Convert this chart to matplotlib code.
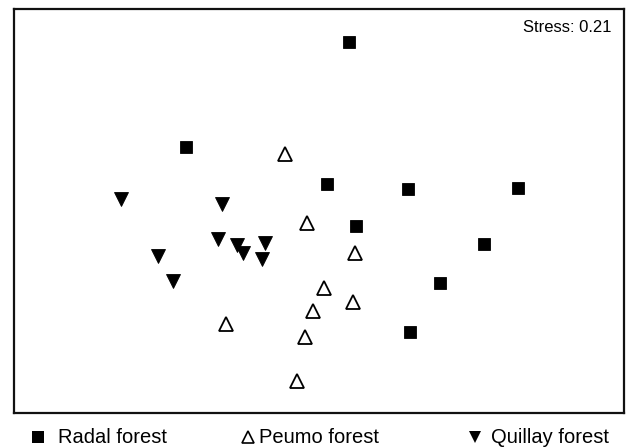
import matplotlib
matplotlib.use("Agg")
import matplotlib.pyplot as plt
from matplotlib.lines import Line2D

plt.rcParams["font.family"] = ["Liberation Sans", "DejaVu Sans"]

# NMDS coordinates
radal_x = [0.145, -0.67, 0.035, 0.44, 0.99, 0.18, 0.82, 0.60, 0.45]
radal_y = [0.89, 0.365, 0.18, 0.155, 0.16, -0.03, -0.12, -0.315, -0.56]

peumo_x = [-0.175, -0.065, 0.175, 0.02, 0.165, -0.035, -0.47, -0.075, -0.115]
peumo_y = [0.33, -0.015, -0.165, -0.34, -0.41, -0.455, -0.52, -0.585, -0.805]

quillay_x = [-0.995, -0.49, -0.51, -0.415, -0.385, -0.275, -0.29, -0.81, -0.735]
quillay_y = [0.105, 0.08, -0.095, -0.125, -0.165, -0.115, -0.195, -0.18, -0.305]

stress = 0.21
legend_labels = ["Radal forest", "Peumo forest", "Quillay forest"]

W, H = 627, 448
fig = plt.figure(figsize=(W / 100, H / 100), dpi=100)
ax = fig.add_axes([14 / W, (H - 413) / H, 610 / W, 404 / H])

ax.plot(radal_x, radal_y, linestyle="none", marker="s", markersize=9,
	markerfacecolor="black", markeredgecolor="black", markeredgewidth=0.6)
ax.plot(peumo_x, peumo_y, linestyle="none", marker="^", markersize=9.5,
	markerfacecolor="white", markeredgecolor="black", markeredgewidth=1.3)
ax.plot(quillay_x, quillay_y, linestyle="none", marker="v", markersize=9.5,
	markerfacecolor="black", markeredgecolor="black", markeredgewidth=0.6)

ax.set_xlim(-1.53, 1.52)
ax.set_ylim(-0.965, 1.055)
ax.set_xticks([])
ax.set_yticks([])
for sp in ax.spines.values():
	sp.set_linewidth(1.6)
	sp.set_color("#111111")

ax.text(0.98, 0.955, f"Stress: {stress:.2f}", transform=ax.transAxes,
	ha="right", va="center", fontsize=12)

# legend row under the frame: symbols as markers, labels as text
leg_y = 1 - 437 / H
sym_x = [37.5, 247.5, 474.5]
sym_style = [
	dict(marker="s", markersize=9, markerfacecolor="black", markeredgewidth=0),
	dict(marker="^", markersize=8, markerfacecolor="white",
		markeredgecolor="black", markeredgewidth=1.2),
	dict(marker="v", markersize=8.2, markerfacecolor="black", markeredgewidth=0),
]
for sx, st in zip(sym_x, sym_style):
	fig.add_artist(Line2D([sx / W], [1 - 437 / H], transform=fig.transFigure,
		linestyle="none", **st))

lab_x = [58, 259, 491]
for lab, lx in zip(legend_labels, lab_x):
	fig.text(lx / W, leg_y, lab, ha="left", va="center", fontsize=14.5)

fig.savefig("out.png", dpi=100)
